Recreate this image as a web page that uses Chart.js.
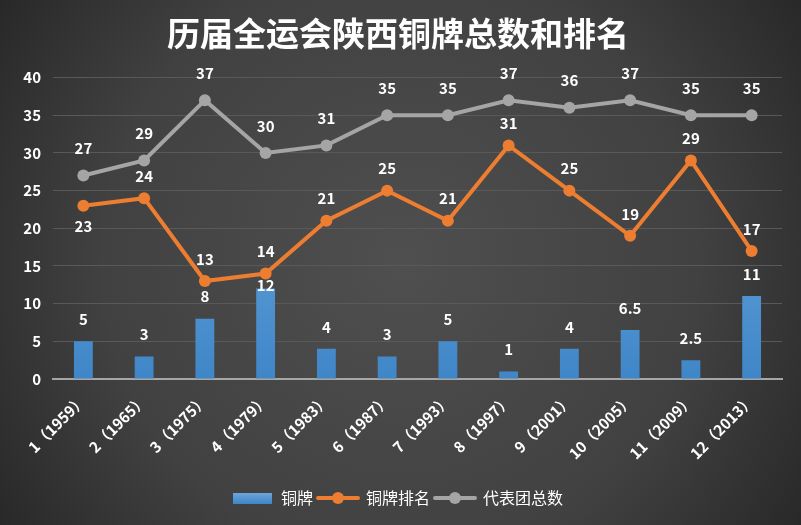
<!DOCTYPE html>
<html>
<head>
<meta charset="utf-8">
<script src="https://cdn.jsdelivr.net/npm/chart.js@4.4.1/dist/chart.umd.min.js"></script>
<style>
    html, body { margin: 0; padding: 0; background: #3a3a3a; }
    #medalChart { display: block; }
</style>
</head>
<body>
<canvas id="medalChart" width="801" height="525"></canvas>
<script>
const categories = ['1（1959）', '2（1965）', '3（1975）', '4（1979）', '5（1983）', '6（1987）',
    '7（1993）', '8（1997）', '9（2001）', '10（2005）', '11（2009）', '12（2013）'];
const bronzeCount = [5, 3, 8, 12, 4, 3, 5, 1, 4, 6.5, 2.5, 11];
const bronzeRank = [23, 24, 13, 14, 21, 25, 21, 31, 25, 19, 29, 17];
const delegationTotal = [27, 29, 37, 30, 31, 35, 35, 37, 36, 37, 35, 35];
const yTicks = [0, 5, 10, 15, 20, 25, 30, 35, 40];

const fontFamily = '"Noto Sans CJK SC", "Noto Sans", sans-serif';
const barColor = '#5b9bd5';
const rankColor = '#ed7d31';
const totalColor = '#a5a5a5';

function legendIcon(kind, color) {
    const c = document.createElement('canvas');
    if (kind === 'bar') {
        c.width = 39;
        c.height = 11;
        const g = c.getContext('2d');
        const grad = g.createLinearGradient(0, 0, 0, 11);
        grad.addColorStop(0, '#6fa8dc');
        grad.addColorStop(1, '#3f86c8');
        g.fillStyle = grad;
        g.fillRect(0, 0, 39, 11);
        return c;
    }
    c.width = 44;
    c.height = 14;
    const g = c.getContext('2d');
    g.strokeStyle = color;
    g.lineWidth = 4;
    g.lineCap = 'round';
    g.beginPath();
    g.moveTo(2, 7);
    g.lineTo(42, 7);
    g.stroke();
    g.fillStyle = color;
    g.beginPath();
    g.arc(22, 7, 6, 0, Math.PI * 2);
    g.fill();
    return c;
}

// radial dark background like the office theme
const backgroundPlugin = {
    id: 'darkBackground',
    beforeDraw(chart) {
        const {ctx, width, height} = chart;
        const grad = ctx.createRadialGradient(width / 2, height / 2, 0, width / 2, height / 2, width * 0.62);
        grad.addColorStop(0, '#4f4f4f');
        grad.addColorStop(0.6, '#414141');
        grad.addColorStop(1, '#262626');
        ctx.save();
        ctx.fillStyle = grad;
        ctx.fillRect(0, 0, width, height);
        ctx.restore();
    },
};

// value labels drawn over the marks
const valueLabelPlugin = {
    id: 'valueLabels',
    afterDatasetsDraw(chart) {
        const {ctx} = chart;
        ctx.save();
        ctx.font = 'bold 15px ' + fontFamily;
        ctx.fillStyle = '#ffffff';
        ctx.textAlign = 'center';
        ctx.textBaseline = 'middle';
        chart.data.datasets.forEach((ds, di) => {
            const meta = chart.getDatasetMeta(di);
            meta.data.forEach((el, i) => {
                let dy = -24;
                if (ds.type === 'bar') {
                    dy = i === 3 ? -3 : -22;
                } else if (di === 1 && i === 0) {
                    dy = 21;
                } else if (di === 1) {
                    dy = -22;
                } else {
                    dy = -27;
                }
                ctx.fillText(String(ds.data[i]), el.x, el.y + dy);
            });
        });
        ctx.restore();
    },
};

const icons = [legendIcon('bar'), legendIcon('line', rankColor), legendIcon('line', totalColor)];

new Chart(document.getElementById('medalChart'), {
    data: {
        labels: categories,
        datasets: [{
            type: 'bar',
            label: '铜牌',
            data: bronzeCount,
            order: 3,
            backgroundColor(context) {
                const area = context.chart.chartArea;
                if (!area) {
                    return barColor;
                }
                const grad = context.chart.ctx.createLinearGradient(0, area.top, 0, area.bottom);
                grad.addColorStop(0, '#7ab2e4');
                grad.addColorStop(1, '#3f86c8');
                return grad;
            },
            barPercentage: 0.31,
            categoryPercentage: 1,
        }, {
            type: 'line',
            label: '铜牌排名',
            data: bronzeRank,
            order: 2,
            borderColor: rankColor,
            backgroundColor: rankColor,
            borderWidth: 4,
            pointRadius: 6,
            pointHoverRadius: 6,
            pointBorderWidth: 0,
            tension: 0,
        }, {
            type: 'line',
            label: '代表团总数',
            data: delegationTotal,
            order: 1,
            borderColor: totalColor,
            backgroundColor: totalColor,
            borderWidth: 4,
            pointRadius: 6,
            pointHoverRadius: 6,
            pointBorderWidth: 0,
            tension: 0,
        }],
    },
    options: {
        responsive: false,
        animation: false,
        layout: {
            padding: {left: 14, right: 19, top: 0, bottom: 9},
        },
        plugins: {
            title: {
                display: true,
                text: '历届全运会陕西铜牌总数和排名',
                color: '#ffffff',
                font: {family: fontFamily, size: 33, weight: 'bold'},
                padding: {top: 14, bottom: 24},
            },
            legend: {
                position: 'bottom',
                labels: {
                    color: '#ffffff',
                    font: {family: fontFamily, size: 16},
                    usePointStyle: true,
                    pointStyleWidth: 40,
                    padding: 5,
                    generateLabels(chart) {
                        const items = Chart.defaults.plugins.legend.labels.generateLabels(chart);
                        items.forEach((item) => {
                            item.pointStyle = icons[item.datasetIndex];
                        });
                        return items.sort((a, b) => a.datasetIndex - b.datasetIndex);
                    },
                },
            },
            tooltip: {enabled: false},
        },
        scales: {
            x: {
                grid: {display: false},
                border: {color: '#a6a6a6', width: 2},
                ticks: {
                    color: '#ffffff',
                    font: {family: fontFamily, size: 15, weight: 'bold'},
                    minRotation: 45,
                    maxRotation: 45,
                    padding: 4,
                    autoSkip: false,
                },
                afterFit(scale) {
                    scale.height = 106;
                },
            },
            y: {
                min: 0,
                max: 40,
                afterBuildTicks(scale) {
                    scale.ticks = yTicks.map((v) => ({value: v}));
                },
                grid: {color: '#595959', lineWidth: 1, drawTicks: false},
                border: {display: false},
                ticks: {
                    color: '#ffffff',
                    font: {family: fontFamily, size: 15, weight: 'bold'},
                    padding: 12,
                },
                afterFit(scale) {
                    scale.width = 39;
                },
            },
        },
    },
    plugins: [backgroundPlugin, valueLabelPlugin],
});
</script>
</body>
</html>
